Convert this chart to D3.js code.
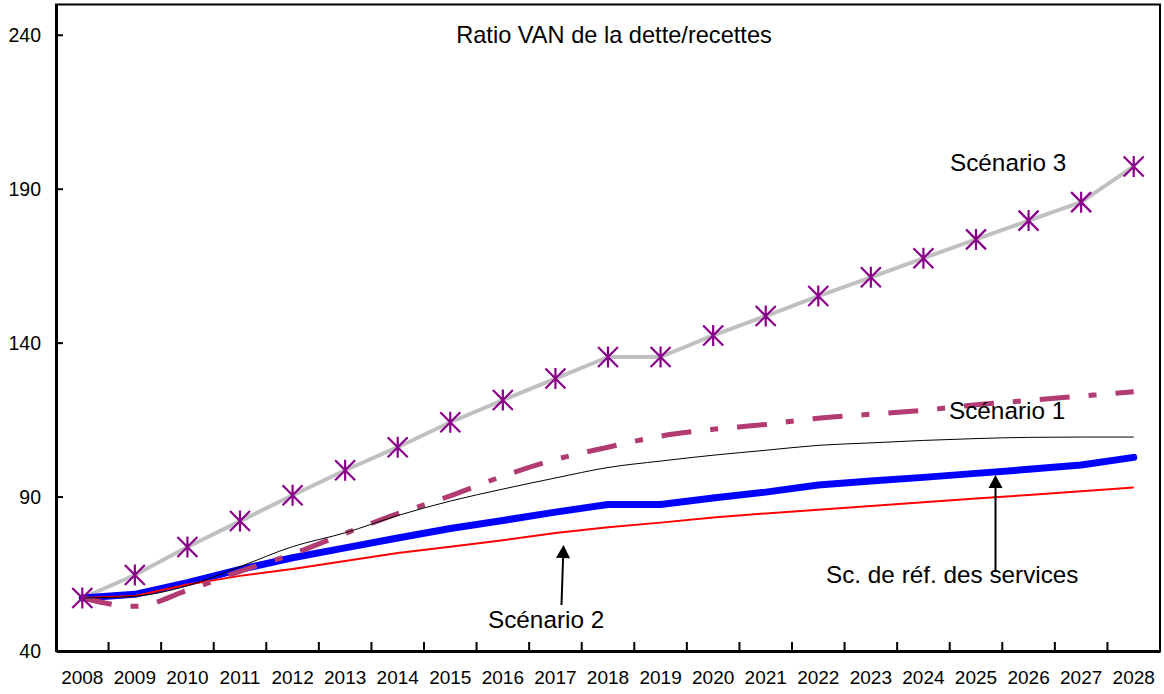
<!DOCTYPE html>
<html>
<head>
<meta charset="utf-8">
<script src="https://cdn.jsdelivr.net/npm/d3@7"></script>
<style>
  html, body { margin: 0; padding: 0; background: #fff; }
  svg { display: block; font-family: "Liberation Sans", Arial, sans-serif; }
</style>
</head>
<body>
<svg id="chart" width="1164" height="694"></svg>
<script>
// ---- data ----
const years = ["2008","2009","2010","2011","2012","2013","2014","2015","2016","2017","2018","2019","2020","2021","2022","2023","2024","2025","2026","2027","2028"];
const scenario3 = [57.2, 64.7, 73.8, 82.2, 90.6, 98.7, 106.2, 114.3, 121.5, 128.5, 135.5, 135.5, 142.5, 148.8, 155.3, 161.4, 167.6, 173.7, 179.8, 185.8, 197.4];
const scenario1 = [57.2, 54.5, 59.7, 65.9, 71.5, 78.2, 84.6, 90.4, 96.8, 102.2, 106.2, 109.8, 112.0, 113.6, 115.6, 116.9, 118.2, 120.0, 121.4, 122.8, 124.2];
const scenarioBlack = [57.2, 57.8, 61.2, 67.4, 73.9, 78.4, 84.0, 88.7, 92.6, 96.2, 99.6, 101.7, 103.6, 105.2, 106.8, 107.6, 108.4, 109.0, 109.4, 109.5, 109.5];
const baseline = [57.2, 58.4, 62.2, 66.5, 70.3, 73.5, 76.7, 79.8, 82.4, 85.1, 87.6, 87.6, 89.7, 91.6, 93.9, 95.2, 96.4, 97.7, 99.0, 100.4, 102.9];
const scenario2 = [57.2, 57.9, 61.6, 64.4, 66.6, 69.2, 71.8, 73.9, 76.0, 78.3, 80.2, 81.7, 83.4, 84.7, 85.9, 87.1, 88.3, 89.5, 90.7, 91.9, 93.1];
const yTicks = [40, 90, 140, 190, 240];
const title = "Ratio VAN de la dette/recettes";

// ---- layout ----
const L = 56, R = 1160, T = 4.5, B = 651;
const svg = d3.select("#chart");
const x = d3.scaleBand().domain(years).range([L, R]).padding(0);
const y = d3.scaleLinear().domain([40, 250]).range([B, T]);
const cx = d => x(d) + x.bandwidth() / 2;

// frame
svg.append("rect").attr("x", L).attr("y", T).attr("width", R - L).attr("height", B - T)
  .attr("fill", "none").attr("stroke", "#000").attr("stroke-width", 2);

// y axis
const yAxis = d3.axisLeft(y).tickValues(yTicks).tickSize(0).tickPadding(15);
const gy = svg.append("g").attr("transform", `translate(${L},0)`).call(yAxis);
gy.select(".domain").attr("stroke", "#000").attr("stroke-width", 3);
gy.selectAll("text").attr("font-size", 19.5).attr("fill", "#000").attr("font-family", "Liberation Sans, Arial, sans-serif");
svg.append("g").selectAll("line").data(yTicks).join("line")
  .attr("x1", L).attr("x2", L + 7).attr("y1", d => y(d)).attr("y2", d => y(d))
  .attr("stroke", "#000").attr("stroke-width", 2);

// x axis
const xAxis = d3.axisBottom(x).tickSize(0).tickPadding(20);
const gx = svg.append("g").attr("transform", `translate(0,${B})`).call(xAxis);
gx.select(".domain").attr("stroke", "#000").attr("stroke-width", 3);
gx.selectAll("text").attr("font-size", 19).attr("fill", "#000").attr("font-family", "Liberation Sans, Arial, sans-serif");
svg.append("g").selectAll("line").data(years.slice(1)).join("line")
  .attr("x1", d => x(d)).attr("x2", d => x(d)).attr("y1", B).attr("y2", B - 9)
  .attr("stroke", "#000").attr("stroke-width", 2);

// title
svg.append("text").attr("x", 614).attr("y", 43).attr("text-anchor", "middle")
  .attr("font-size", 23.6).attr("fill", "#000").text(title);

// lines
const lineLin = d3.line().x((d, i) => cx(years[i])).y(d => y(d));
const lineSmooth = d3.line().x((d, i) => cx(years[i])).y(d => y(d)).curve(d3.curveMonotoneX);

svg.append("path").datum(scenario3).attr("d", lineLin)
  .attr("fill", "none").attr("stroke", "#c0c0c0").attr("stroke-width", 4).attr("stroke-linejoin", "round");
svg.append("path").datum(baseline).attr("d", lineLin)
  .attr("fill", "none").attr("stroke", "#0000ff").attr("stroke-width", 7).attr("stroke-linejoin", "round").attr("stroke-linecap", "round");
svg.append("path").datum(scenario2).attr("d", lineLin)
  .attr("fill", "none").attr("stroke", "#ff0000").attr("stroke-width", 2);
svg.append("path").datum(scenario1).attr("d", lineSmooth)
  .attr("fill", "none").attr("stroke", "#b23b72").attr("stroke-width", 5).attr("stroke-dasharray", "30,19,8,19");
svg.append("path").datum(scenarioBlack).attr("d", lineSmooth)
  .attr("fill", "none").attr("stroke", "#000").attr("stroke-width", 1);

// asterisk markers
const s = 10;
svg.append("g").selectAll("path").data(scenario3).join("path")
  .attr("transform", (d, i) => `translate(${cx(years[i])},${y(d)})`)
  .attr("d", `M${-s},${-s}L${s},${s}M${-s},${s}L${s},${-s}M0,${-s * 1.05}L0,${s * 1.05}`)
  .attr("fill", "none").attr("stroke", "#8b008b").attr("stroke-width", 2.2);

// annotations
const ann = svg.append("g").attr("font-size", 24.3).attr("fill", "#000");
ann.append("text").attr("x", 950).attr("y", 171).text("Scénario 3");
ann.append("text").attr("x", 949).attr("y", 419).text("Scénario 1");
ann.append("text").attr("x", 488).attr("y", 628).text("Scénario 2");
ann.append("text").attr("x", 826).attr("y", 583).text("Sc. de réf. des services");

function arrow(x1, y1, x2, y2) {
  const ang = Math.atan2(y2 - y1, x2 - x1);
  const hl = 13, hw = 7;
  const bx = x2 - hl * Math.cos(ang), by = y2 - hl * Math.sin(ang);
  svg.append("line").attr("x1", x1).attr("y1", y1).attr("x2", bx).attr("y2", by)
    .attr("stroke", "#000").attr("stroke-width", 2);
  const px = -Math.sin(ang) * hw, py = Math.cos(ang) * hw;
  svg.append("path").attr("d", `M${x2},${y2}L${bx + px},${by + py}L${bx - px},${by - py}Z`).attr("fill", "#000");
}
arrow(561.5, 605, 563.5, 545);
arrow(995.5, 572, 995.5, 475);
</script>
</body>
</html>
